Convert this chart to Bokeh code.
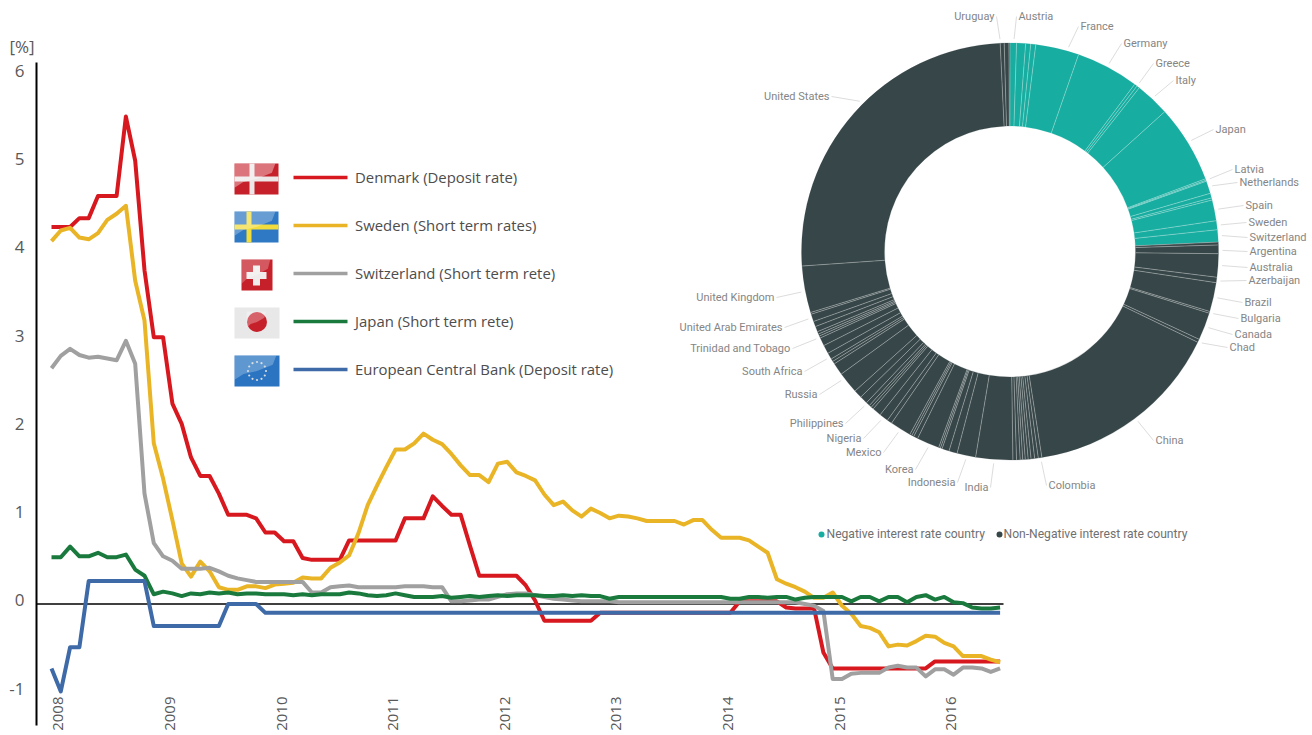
import math
import numpy as np
from bokeh.core.properties import value
from bokeh.embed import file_html
from bokeh.models import FixedTicker, LinearAxis, Range1d
from bokeh.plotting import figure
from bokeh.resources import INLINE

# ---------- line chart values (monthly, Jan 2008 onward, percent) ----------
years = ["2008", "2009", "2010", "2011", "2012", "2013", "2014", "2015", "2016"]
y_ticks = [-1, 0, 1, 2, 3, 4, 5, 6]
denmark = [4.27, 4.27, 4.27, 4.37, 4.37, 4.62, 4.62, 4.62, 5.52, 5.02, 3.78, 3.02, 3.02, 2.27, 2.04, 1.66, 1.45, 1.45,
           1.25, 1.01, 1.01, 1.01, 0.97, 0.81, 0.81, 0.71, 0.71, 0.52, 0.5, 0.5, 0.5, 0.5, 0.72, 0.72, 0.72, 0.72,
           0.72, 0.72, 0.97, 0.97, 0.97, 1.22, 1.11, 1.01, 1.01, 0.66, 0.32, 0.32, 0.32, 0.32, 0.32, 0.21, 0.04,
           -0.19, -0.19, -0.19, -0.19, -0.19, -0.19, -0.1, -0.1, -0.1, -0.1, -0.1, -0.1, -0.1, -0.1, -0.1, -0.1,
           -0.1, -0.1, -0.1, -0.1, -0.1, 0.03, 0.03, 0.03, 0.03, 0.03, -0.04, -0.05, -0.05, -0.05, -0.55, -0.73,
           -0.73, -0.73, -0.73, -0.73, -0.73, -0.73, -0.73, -0.73, -0.73, -0.73, -0.65, -0.65, -0.65, -0.65, -0.65,
           -0.65, -0.65, -0.65]
sweden = [4.11, 4.23, 4.26, 4.15, 4.13, 4.2, 4.35, 4.42, 4.51, 3.66, 3.21, 1.82, 1.42, 0.95, 0.46, 0.31, 0.48, 0.37,
          0.19, 0.16, 0.16, 0.2, 0.2, 0.18, 0.22, 0.23, 0.24, 0.3, 0.29, 0.29, 0.41, 0.47, 0.55, 0.8, 1.12, 1.34,
          1.55, 1.75, 1.75, 1.82, 1.93, 1.86, 1.81, 1.7, 1.57, 1.46, 1.46, 1.38, 1.59, 1.61, 1.49, 1.45, 1.4, 1.24,
          1.12, 1.16, 1.06, 0.99, 1.08, 1.03, 0.97, 1.0, 0.99, 0.97, 0.94, 0.94, 0.94, 0.94, 0.9, 0.95, 0.95, 0.84,
          0.75, 0.75, 0.75, 0.72, 0.65, 0.58, 0.28, 0.23, 0.19, 0.14, 0.07, 0.07, 0.13, -0.02, -0.11, -0.25, -0.27,
          -0.32, -0.48, -0.46, -0.47, -0.42, -0.36, -0.37, -0.44, -0.48, -0.59, -0.59, -0.59, -0.63, -0.66]
switzerland = [2.67, 2.81, 2.89, 2.82, 2.79, 2.8, 2.78, 2.76, 2.98, 2.72, 1.25, 0.69, 0.54, 0.49, 0.4, 0.4, 0.4, 0.41,
               0.37, 0.32, 0.29, 0.27, 0.25, 0.25, 0.25, 0.25, 0.25, 0.25, 0.13, 0.13, 0.19, 0.2, 0.21, 0.19, 0.19,
               0.19, 0.19, 0.19, 0.2, 0.2, 0.2, 0.19, 0.19, 0.03, 0.03, 0.04, 0.05, 0.05, 0.08, 0.11, 0.12, 0.12,
               0.1, 0.08, 0.06, 0.05, 0.04, 0.03, 0.03, 0.03, 0.03, 0.02, 0.02, 0.02, 0.02, 0.02, 0.02, 0.02, 0.02,
               0.02, 0.02, 0.02, 0.02, 0.02, 0.02, 0.02, 0.02, 0.02, 0.02, 0.02, 0.02, 0.0, -0.02, -0.08, -0.85,
               -0.85, -0.79, -0.78, -0.78, -0.78, -0.72, -0.7, -0.72, -0.72, -0.82, -0.74, -0.74, -0.8, -0.72, -0.72,
               -0.73, -0.77, -0.73]
japan = [0.53, 0.53, 0.65, 0.54, 0.54, 0.58, 0.53, 0.53, 0.56, 0.39, 0.32, 0.11, 0.14, 0.12, 0.09, 0.12, 0.11, 0.13,
         0.12, 0.13, 0.11, 0.12, 0.12, 0.11, 0.11, 0.11, 0.1, 0.11, 0.1, 0.11, 0.11, 0.11, 0.13, 0.12, 0.1, 0.09, 0.1,
         0.12, 0.1, 0.08, 0.08, 0.08, 0.09, 0.07, 0.08, 0.09, 0.08, 0.09, 0.1, 0.09, 0.1, 0.1, 0.1, 0.09, 0.09, 0.1,
         0.09, 0.1, 0.09, 0.09, 0.06, 0.08, 0.08, 0.08, 0.08, 0.08, 0.08, 0.08, 0.08, 0.08, 0.08, 0.08, 0.08, 0.06,
         0.06, 0.08, 0.08, 0.07, 0.08, 0.08, 0.05, 0.07, 0.08, 0.08, 0.08, 0.08, 0.03, 0.08, 0.08, 0.03, 0.08, 0.08,
         0.02, 0.08, 0.1, 0.05, 0.08, 0.02, 0.01, -0.04, -0.05, -0.05, -0.04]
ecb = [-0.73, -0.99, -0.49, -0.49, 0.26, 0.26, 0.26, 0.26, 0.26, 0.26, 0.26, -0.25, -0.25, -0.25, -0.25, -0.25, -0.25,
       -0.25, -0.25, 0.0, 0.0, 0.0, 0.0] + [-0.1] * 80

series_names = ["Denmark (Deposit rate)", "Sweden (Short term rates)", "Switzerland (Short term rete)",
                "Japan (Short term rete)", "European Central Bank (Deposit rate)"]
series_colors = ["#D7181F", "#E9B526", "#A0A0A0", "#1A7A3E", "#3E6AA8"]

# ---------- donut values (arc of each country) ----------
neg_names = ["Austria", "", "", "", "France", "Germany", "Greece", "", "Italy", "Japan", "Latvia", "", "Netherlands",
             "", "", "Spain", "Sweden", "Switzerland"]
neg_share = [1.8, 2.5, 1.4, 1.4, 12.1, 17.5, 0.8, 0.8, 9.6, 21.7, 0.4, 0.3, 3.5, 1.3, 0.6, 5.8, 2.5, 3.4]
pos_names = ["", "Argentina", "Australia", "Azerbaijan", "Brazil", "Bulgaria", "Canada", "Chad", "China", "Colombia",
             "", "", "", "", "", "", "", "", "India", "Indonesia", "", "", "", "", "Korea", "", "", "", "Mexico", "",
             "Nigeria", "", "", "", "Philippines", "", "", "Russia", "", "", "", "South Africa", "", "",
             "Trinidad and Tobago", "", "", "", "", "United Arab Emirates", "", "United Kingdom", "United States",
             "Uruguay", "", ""]
pos_share = [0.8, 2.4, 6.5, 1.5, 8.1, 0.5, 7.7, 0.9, 55.4, 1.0, 1.0, 1.0, 0.8, 0.8, 0.7, 0.7, 1.0, 1.0, 10.3, 5.2, 2.3,
             2.0, 0.5, 0.5, 6.3, 1.2, 0.6, 0.6, 5.9, 1.4, 2.5, 2.5, 0.7, 0.7, 1.1, 2.2, 2.3, 6.0, 3.4, 0.8, 0.8, 1.8,
             2.4, 2.3, 0.6, 0.6, 0.7, 1.5, 1.5, 2.1, 0.5, 13.0, 91.3, 1.1, 1.3, 0.3]

# name, left/right text edge, y of text, side, leader angle (deg clockwise from top)
donut_labels = [
    ("Uruguay", 994, 16, "right", 357.3), ("Austria", 1018, 16, "left", 1.1), ("France", 1080, 26, "left", 16),
    ("Germany", 1123, 43, "left", 27.8), ("Greece", 1155, 63, "left", 37.5), ("Italy", 1175, 80, "left", 43),
    ("Japan", 1215, 129, "left", 58.5), ("Latvia", 1234, 169, "left", 70), ("Netherlands", 1239, 182, "left", 72),
    ("Spain", 1245, 205, "left", 78.5), ("Sweden", 1248, 222, "left", 82.8), ("Switzerland", 1249, 237, "left", 85.7),
    ("Argentina", 1249, 251, "left", 89.7), ("Australia", 1249, 267, "left", 93.8),
    ("Azerbaijan", 1248, 280, "left", 98), ("Brazil", 1244, 302, "left", 102.6), ("Bulgaria", 1240, 318, "left", 107),
    ("Canada", 1234, 334, "left", 111), ("Chad", 1229, 347, "left", 115.5), ("China", 1155, 440, "left", 143),
    ("Colombia", 1048, 485, "left", 171.5), ("India", 988, 487, "right", 184.4), ("Indonesia", 955, 482, "right", 192),
    ("Korea", 913, 469, "right", 202.7), ("Mexico", 881, 452, "right", 211.7), ("Nigeria", 861, 438, "right", 217.4),
    ("Philippines", 843, 423, "right", 223.3), ("Russia", 817, 394, "right", 232.6),
    ("South Africa", 802, 371, "right", 239.6), ("Trinidad and Tobago", 790, 348, "right", 245.7),
    ("United Arab Emirates", 782, 327, "right", 251.5), ("United Kingdom", 774, 297, "right", 259),
    ("United States", 829, 96, "right", 315),
]

TEAL, DARK = "#17ADA0", "#374649"
W, H = 1312, 735
X0, DX = 51.0, 9.3      # pixel of first month, pixels per month
Y0, DY = 603.5, 88.3    # pixel of zero, pixels per percent
SANS = value("Open Sans")
DIN = value("Roboto")


def Y(v):
    return H - v


p = figure(width=W, height=H, output_backend="svg", toolbar_location=None,
           x_range=Range1d((0 - X0) / DX, (W - X0) / DX), y_range=Range1d((Y0 - H) / DY, Y0 / DY),
           min_border=0, x_axis_location=None, y_axis_location=None, outline_line_color=None,
           background_fill_color="white")
p.grid.visible = False
p.extra_x_ranges["px"] = Range1d(0, W)
p.extra_y_ranges["px"] = Range1d(0, H)
PX = dict(x_range_name="px", y_range_name="px")

# ---------- axes ----------
month_lo = (36 - X0) / DX
yaxis = LinearAxis(fixed_location=month_lo, bounds=((Y0 - 725) / DY, (Y0 - 62) / DY),
                   ticker=FixedTicker(ticks=[t + 0.04 for t in y_ticks]),
                   major_label_overrides={t + 0.04: str(t) for t in y_ticks},
                   major_tick_line_color=None, minor_tick_line_color=None,
                   axis_line_color="#000000", axis_line_width=2, major_label_standoff=6,
                   major_label_text_font_size="17px", major_label_text_font=SANS.value,
                   major_label_text_color="#595959")
p.add_layout(yaxis, "left")
xtick = [0.75 + 12 * i for i in range(len(years))]
xaxis = LinearAxis(fixed_location=(Y0 - 687) / DY, ticker=FixedTicker(ticks=xtick),
                   major_label_overrides={t: y for t, y in zip(xtick, years)},
                   major_label_orientation=math.pi / 2, major_tick_line_color=None, minor_tick_line_color=None,
                   axis_line_color=None, major_label_standoff=3,
                   major_label_text_font_size="15px", major_label_text_font=SANS.value,
                   major_label_text_color="#595959")
p.add_layout(xaxis, "below")

p.segment([month_lo], [0], [(1003 - X0) / DX], [0], line_color="#000000", line_width=1.6)
months = list(range(len(denmark)))
for vals, col in zip([denmark, sweden, switzerland, japan, ecb], series_colors):
    p.line(months[:len(vals)], vals, line_color=col, line_width=4, line_join="round")

p.text([9], [Y(46)], text=["[%]"], text_font=SANS, text_font_size="17px", text_color="#595959",
       text_baseline="middle", **PX)

# ---------- legend with flags ----------
leg_y = [177, 225, 273, 321, 369]
p.segment([293] * 5, [Y(v) for v in leg_y], [347] * 5, [Y(v) for v in leg_y], line_color=series_colors, line_width=3.5,
          **PX)
p.text([354.5] * 5, [Y(v - 1) for v in leg_y], text=series_names, text_font=SANS, text_font_size="14.9px",
       text_color="#4D4D4D", text_baseline="middle", **PX)


def box(x0, x1, y0, y1, col, **kw):
    p.quad(left=[x0], right=[x1], top=[Y(y0)], bottom=[Y(y1)], fill_color=col, line_color=None, **PX, **kw)


def gloss(x0, x1, y0, y1, alpha=0.38):
    w, h = x1 - x0, y1 - y0
    xs = [x0, x0 + 0.93 * w, x0 + 0.85 * w, x0 + 0.5 * w, x0 + 0.2 * w, x0]
    ys = [y0, y0, y0 + 0.3 * h, y0 + 0.5 * h, y0 + 0.6 * h, y0 + 0.78 * h]
    p.patch(xs, [Y(v) for v in ys], fill_color="#FFFFFF", fill_alpha=alpha, line_color=None, **PX)


# Denmark
box(234, 278, 163, 194, "#C6202A")
box(249, 254, 163, 194, "#ECE6E6")
box(234, 278, 176, 181, "#ECE6E6")
gloss(234, 278, 163, 194)
# Sweden
box(234, 278, 211, 242, "#2E78C4")
box(246, 251, 211, 242, "#F2DC3C")
box(234, 278, 224, 229, "#F2DC3C")
gloss(234, 278, 211, 242, 0.28)
# Switzerland
box(241, 272, 259, 290, "#C6202A")
box(252.5, 259.5, 265, 285, "#F0ECEC")
box(246, 266, 271.5, 278.5, "#F0ECEC")
gloss(241, 272, 259, 290, 0.25)
# Japan
box(234, 279, 307, 338, "#E8E8E8")
p.circle([256.5], [Y(321.5)], radius=10, fill_color="#C6202A", line_color=None, **PX)
gloss(246, 267, 311, 332, 0.3)
# European Union
box(234, 279, 355, 386, "#2A74C2")
gloss(234, 279, 355, 386, 0.25)
stars = [i * math.pi / 6 for i in range(12)]
p.scatter([256.5 + 9 * math.cos(a) for a in stars], [Y(370.5) + 9 * math.sin(a) for a in stars], size=2.2,
          fill_color="#D8DDE0", line_color=None, **PX)

# ---------- donut ----------
CX, CY, R_OUT, R_IN = 1009.5, 251.0, 208.5, 125.5
shares = np.array(neg_share + pos_share, dtype=float)
colors = [TEAL] * len(neg_share) + [DARK] * len(pos_share)
edges = np.concatenate([[0.0], np.cumsum(shares)]) / shares.sum() * 2 * np.pi
p.annular_wedge(x=[CX] * len(shares), y=[Y(CY)] * len(shares), inner_radius=R_IN, outer_radius=R_OUT,
                start_angle=np.pi / 2 - edges[1:], end_angle=np.pi / 2 - edges[:-1], fill_color=colors,
                line_color=colors, line_width=0.2, **PX)
p.segment(CX + R_IN * np.sin(edges[:-1]), Y(CY) + R_IN * np.cos(edges[:-1]),
          CX + R_OUT * np.sin(edges[:-1]), Y(CY) + R_OUT * np.cos(edges[:-1]),
          line_color="#FFFFFF", line_alpha=0.55, line_width=0.6, **PX)

for name, tx, ty, side, ang in donut_labels:
    a = math.radians(ang)
    sx = CX + (R_OUT + 4) * math.sin(a)
    sy = Y(CY) + (R_OUT + 4) * math.cos(a)
    ex = tx - 2 if side == "left" else tx + 2
    p.segment([sx], [sy], [ex], [Y(ty)], line_color="#D8D8D8", line_width=0.9, **PX)
    p.text([tx], [Y(ty)], text=[name], text_font=DIN, text_font_size="11px", text_color="#858585",
           text_align=side, text_baseline="middle", **PX)

p.scatter([821, 999], [Y(534), Y(534)], size=6, fill_color=[TEAL, DARK], line_color=None, **PX)
p.text([826, 1003], [Y(533), Y(533)], text=["Negative interest rate country", "Non-Negative interest rate country"],
       text_font=DIN, text_font_size="12.1px", text_color="#707070", text_baseline="middle", **PX)

open("out.html", "w").write(file_html(p, INLINE))
